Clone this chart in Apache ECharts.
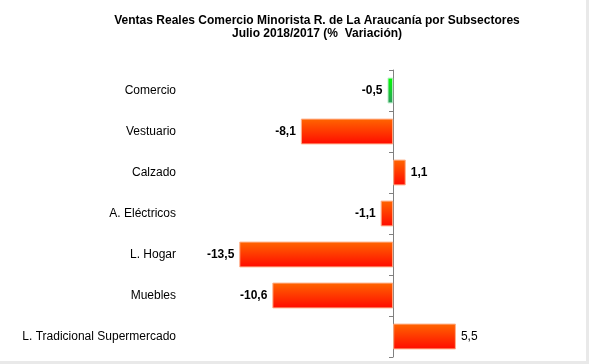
<!DOCTYPE html>
<html>
<head>
<meta charset="utf-8">
<script src="https://cdn.jsdelivr.net/npm/echarts@6/dist/echarts.min.js"></script>
<style>html,body{margin:0;padding:0;background:#fff}#c{width:589px;height:364px}</style>
</head>
<body>
<div id="c"></div>
<script>
const categories = ['Comercio', 'Vestuario', 'Calzado', 'A. Eléctricos', 'L. Hogar', 'Muebles', 'L. Tradicional Supermercado'];
const values = [-0.5, -8.1, 1.1, -1.1, -13.5, -10.6, 5.5];
const boldLabels = [true, true, true, true, true, true, false];

const orange = new echarts.graphic.LinearGradient(0, 0, 0, 1, [{offset: 0, color: '#FF6600'}, {offset: 1, color: '#FF0a00'}]);
const green = new echarts.graphic.LinearGradient(0, 0, 0, 1, [{offset: 0, color: '#00FF00'}, {offset: 1, color: '#2E9A5E'}]);

const data = values.map((v, i) => ({
  value: v,
  itemStyle: {color: i === 0 ? green : orange, borderColor: i === 0 ? '#bfeecb' : '#FFB08A', borderWidth: 1},
  label: {
    show: true,
    position: v < 0 ? 'left' : 'right',
    distance: 5,
    fontWeight: boldLabels[i] ? 'bold' : 'normal',
    formatter: () => String(v).replace('.', ',')
  }
}));

const chart = echarts.init(document.getElementById('c'), null, {renderer: 'canvas'});
chart.setOption({
  animation: false,
  title: {
    text: 'Ventas Reales Comercio Minorista R. de La Araucanía por Subsectores\nJulio 2018/2017 (%  Variación)',
    left: 312, top: 9, textAlign: 'center',
    textStyle: {fontFamily: 'Liberation Sans', fontSize: 12, fontWeight: 'bold', color: '#000', lineHeight: 13}
  },
  grid: {left: 188, width: 296.4, top: 70, bottom: 7, containLabel: false},
  xAxis: {type: 'value', min: -18, max: 8, show: false},
  yAxis: [
    {
      type: 'category', data: categories, inverse: true,
      axisLine: {show: false}, axisTick: {show: false},
      axisLabel: {margin: 12, fontFamily: 'Liberation Sans', fontSize: 12, color: '#000'}
    },
    {
      type: 'category', data: categories, inverse: true,
      position: 'left', offset: -205,
      axisLine: {show: true, onZero: false, lineStyle: {color: '#808080', width: 1}},
      axisTick: {show: true, length: 4, inside: false, lineStyle: {color: '#808080'}},
      axisLabel: {show: false}
    }
  ],
  series: [{
    type: 'bar', data: data, yAxisIndex: 0, barWidth: '63%',
    label: {fontFamily: 'Liberation Sans', fontSize: 12, color: '#000'}
  }],
  graphic: [
    {type: 'rect', shape: {x: 0, y: 361, width: 589, height: 3}, style: {fill: '#e9e9e9'}},
    {type: 'rect', shape: {x: 586, y: 0, width: 3, height: 364}, style: {fill: '#e9e9e9'}}
  ]
});
</script>
</body>
</html>
